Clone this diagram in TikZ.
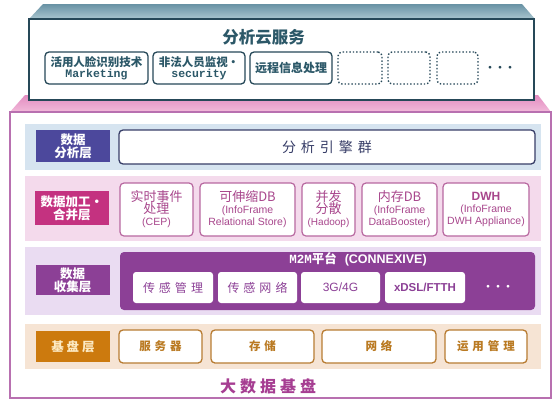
\documentclass[tikz,border=0pt]{standalone}
\usepackage{fontspec}
\setmainfont{Noto Sans CJK SC}
\newfontfamily\monofont{Liberation Mono}
\newfontfamily\latinfont{Liberation Sans}
\usepackage{xcolor}
\usetikzlibrary{positioning}
\definecolor{cloudline}{RGB}{38, 72, 88}
\definecolor{cloudtext}{RGB}{44, 88, 104}
\definecolor{cloudtop}{RGB}{104, 146, 164}
\definecolor{cloudtoplight}{RGB}{170, 198, 208}
\definecolor{baseline}{RGB}{184, 112, 176}
\definecolor{basetop}{RGB}{226, 140, 192}
\definecolor{basetoplight}{RGB}{242, 186, 218}
\definecolor{bandblue}{RGB}{214, 228, 240}
\definecolor{bandpink}{RGB}{244, 218, 236}
\definecolor{bandlav}{RGB}{234, 220, 242}
\definecolor{bandbeige}{RGB}{246, 228, 212}
\definecolor{labelblue}{RGB}{76, 72, 156}
\definecolor{enginenavy}{RGB}{56, 62, 104}
\definecolor{labelmagenta}{RGB}{196, 50, 128}
\definecolor{procline}{RGB}{184, 104, 160}
\definecolor{proctext}{RGB}{168, 70, 140}
\definecolor{m2mpurple}{RGB}{140, 64, 150}
\definecolor{labelorange}{RGB}{204, 122, 14}
\definecolor{labelcream}{RGB}{252, 234, 196}
\definecolor{infraline}{RGB}{184, 124, 50}
\definecolor{infratext}{RGB}{186, 122, 34}
\definecolor{basetext}{RGB}{166, 62, 146}

\begin{document}
\begin{tikzpicture}[x=1pt, y=-1pt,
    cloudbox/.style={draw=cloudline, line width=1.3pt, rounded corners=4pt, fill=white, text=cloudtext, inner sep=0pt, align=center, minimum height=32pt, font=\bfseries\fontsize{11.5}{12}\selectfont},
    dotbox/.style={draw=cloudline, dotted, line width=1.4pt, rounded corners=4pt, inner sep=0pt, minimum height=32pt},
    layerband/.style={inner sep=0pt, minimum width=516pt},
    layerlabel/.style={inner sep=0pt, minimum width=74pt, text=white, align=center, font=\bfseries\fontsize{12.5}{13}\selectfont},
    procbox/.style={draw=procline, line width=1.2pt, rounded corners=4pt, fill=white, text=proctext, inner sep=0pt, align=center, minimum height=53pt, font=\fontsize{13}{13}\selectfont},
    sensebox/.style={rounded corners=3pt, fill=white, text=m2mpurple, inner sep=0pt, minimum height=31pt, font=\fontsize{12}{12}\selectfont},
    infrabox/.style={draw=infraline, line width=1.3pt, rounded corners=4pt, fill=white, text=infratext, inner sep=0pt, minimum height=33pt, font=\bfseries\fontsize{11.5}{12}\selectfont}
]
\useasboundingbox (0,0) rectangle (558,405);
\fill[white] (0,0) rectangle (558,405);

% big data base (pink)
\shade[top color=basetop, bottom color=basetoplight] (25,95) -- (538,95) -- (551,112) -- (10,112) -- cycle;
\node[draw=baseline, line width=2pt, fill=white, inner sep=0pt, minimum width=541pt, minimum height=286pt] (base) at (280.5,255) {};

% cloud service (top)
\shade[top color=cloudtop, bottom color=cloudtoplight] (43,4) -- (522,4) -- (535,19) -- (29,19) -- cycle;
\node[draw=cloudline, line width=2.5pt, fill=white, inner sep=0pt, minimum width=505pt, minimum height=81pt] (cloud) at (281.5,59.5) {};
\node[text=cloudtext, font=\bfseries\fontsize{16.5}{18}\selectfont] (cloudtitle) at (263.5,37) {分析云服务};

\node[cloudbox, minimum width=103pt] (face) at (96.5,68) {{活用人脸识别技术}\\[-1pt]{\monofont\fontsize{11.5}{11}\selectfont Marketing}};
\node[cloudbox, minimum width=92pt] (watch) at (199,68) {{非法人员监视·}\\[-1pt]{\monofont\fontsize{11.5}{11}\selectfont security}};
\node[cloudbox, minimum width=82pt, font=\bfseries\fontsize{12}{12}\selectfont] (remote) at (291,68) {远程信息处理};
\node[dotbox, minimum width=44pt] (spare1) at (360,68) {};
\node[dotbox, minimum width=42pt] (spare2) at (409,68) {};
\node[dotbox, minimum width=41pt] (spare3) at (457.5,68) {};
\node[text=cloudline, font=\bfseries\fontsize{10}{10}\selectfont] (cloudmore) at (500,69) {···};

% data analysis layer
\node[layerband, fill=bandblue, minimum height=46pt] (analysis) at (283,147) {};
\node[layerlabel, fill=labelblue, minimum height=32pt] (analysislbl) at (73,146) {数据\\分析层};
\node[draw=enginenavy, line width=1.3pt, rounded corners=4pt, fill=white, text=enginenavy, minimum width=416pt, minimum height=34pt, font=\fontsize{14}{14}\selectfont] (engine) at (327,147) {分\hspace{5pt}析\hspace{5pt}引\hspace{5pt}擎\hspace{5pt}群\hspace{42pt}};

% data processing layer
\node[layerband, fill=bandpink, minimum height=65pt] (process) at (283,208.5) {};
\node[layerlabel, fill=labelmagenta, minimum height=34pt] (processlbl) at (72,208) {数据加工·\\合并层};
\node[procbox, minimum width=73pt] (cep) at (156.5,209.5) {{实时事件}\\[-1pt]{处理}\\[-1pt]{\latinfont\fontsize{10.5}{10}\selectfont (CEP)}};
\node[procbox, minimum width=95pt] (scaledb) at (247.5,209.5) {{可伸缩DB}\\[-1pt]{\latinfont\fontsize{10.5}{10}\selectfont (InfoFrame}\\[-1pt]{\latinfont\fontsize{10.5}{10}\selectfont Relational Store)}};
\node[procbox, minimum width=53pt] (hadoop) at (328.5,209.5) {{并发}\\[-1pt]{分散}\\[-1pt]{\latinfont\fontsize{10}{10}\selectfont (Hadoop)}};
\node[procbox, minimum width=75pt] (memdb) at (399.5,209.5) {{内存DB}\\[-1pt]{\latinfont\fontsize{10.5}{10}\selectfont (InfoFrame}\\[-1pt]{\latinfont\fontsize{10.5}{10}\selectfont DataBooster)}};
\node[procbox, minimum width=86pt] (dwh) at (486,209.5) {{\latinfont\bfseries\fontsize{12}{12}\selectfont DWH}\\[-1pt]{\latinfont\fontsize{10.5}{10}\selectfont (InfoFrame}\\[-1pt]{\latinfont\fontsize{10.5}{10}\selectfont DWH Appliance)}};

% data collection layer
\node[layerband, fill=bandlav, minimum height=68pt] (collect) at (283,281) {};
\node[layerlabel, fill=m2mpurple, minimum height=30pt] (collectlbl) at (72.5,280) {数据\\收集层};
\node[fill=m2mpurple, rounded corners=4pt, inner sep=0pt, minimum width=415pt, minimum height=58pt] (m2m) at (327.5,281) {};
\node[text=white, font=\bfseries\fontsize{12.5}{13}\selectfont] (m2mtitle) at (358,259) {{\monofont M2M}平台\hspace{8pt}{\latinfont (CONNEXIVE)}};
\node[sensebox, minimum width=80pt] (sensemgmt) at (173,287.5) {传\hspace{4pt}感\hspace{4pt}管\hspace{4pt}理};
\node[sensebox, minimum width=79pt] (sensenet) at (257.5,287.5) {传\hspace{4pt}感\hspace{4pt}网\hspace{4pt}络};
\node[sensebox, minimum width=79pt, font=\latinfont\fontsize{12}{12}\selectfont] (mobile) at (340.5,287.5) {3G/4G};
\node[sensebox, minimum width=80pt, font=\latinfont\bfseries\fontsize{11.5}{12}\selectfont] (xdsl) at (425,287.5) {xDSL/FTTH};
\node[text=white, font=\bfseries\fontsize{10}{10}\selectfont] (m2mmore) at (498,288) {···};

% infrastructure layer
\node[layerband, fill=bandbeige, minimum height=45pt] (infra) at (283,346.5) {};
\node[layerlabel, fill=labelorange, minimum height=31pt, text=labelcream] (infralbl) at (73,346.5) {基\hspace{3pt}盘\hspace{3pt}层};
\node[infrabox, minimum width=83pt] (server) at (160.5,346.5) {服\hspace{4pt}务\hspace{4pt}器};
\node[infrabox, minimum width=103pt] (storage) at (262.5,346.5) {存\hspace{4pt}储};
\node[infrabox, minimum width=114pt] (network) at (379,346.5) {网\hspace{4pt}络};
\node[infrabox, minimum width=82pt] (ops) at (486,346.5) {运\hspace{4pt}用\hspace{4pt}管\hspace{4pt}理};

\node[text=basetext, font=\bfseries\fontsize{16}{16}\selectfont] (basetitle) at (268,386) {大\hspace{4pt}数\hspace{4pt}据\hspace{4pt}基\hspace{4pt}盘};
\end{tikzpicture}
\end{document}
